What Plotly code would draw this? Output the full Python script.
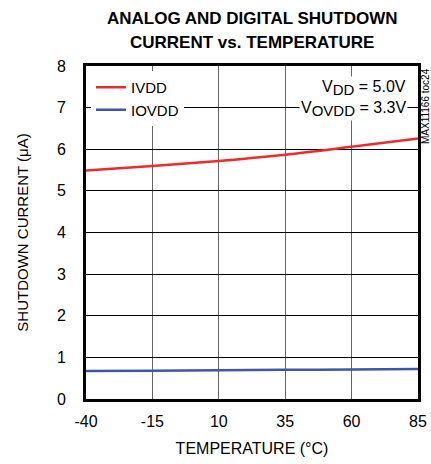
import plotly.graph_objects as go

temps = [-40, -15, 10, 35, 60, 85]
ivdd = [5.49, 5.60, 5.72, 5.87, 6.06, 6.26]
iovdd = [0.67, 0.68, 0.69, 0.70, 0.71, 0.72]
x_ticks = [-40, -15, 10, 35, 60, 85]
y_ticks = [0, 1, 2, 3, 4, 5, 6, 7, 8]

FONT = "Liberation Sans, Arial"

fig = go.Figure()
fig.add_trace(go.Scatter(x=temps, y=ivdd, mode="lines", name="IVDD",
                         line=dict(color="#ee2a2a", width=2.5, shape="spline")))
fig.add_trace(go.Scatter(x=temps, y=iovdd, mode="lines", name="IOVDD",
                         line=dict(color="#3d57a8", width=2.5, shape="spline")))

fig.update_layout(
    width=431, height=464,
    margin=dict(l=86, r=13, t=66, b=65, autoexpand=False),
    paper_bgcolor="white", plot_bgcolor="white",
    font=dict(family=FONT, size=15, color="black"),
    showlegend=True,
    legend=dict(x=0.015, y=0.985, xanchor="left", yanchor="top",
                bgcolor="white", borderwidth=0,
                font=dict(family=FONT, size=15, color="black"),
                itemwidth=30, tracegroupgap=0),
    xaxis=dict(range=[-40, 85], tickvals=x_ticks, ticktext=[str(v) for v in x_ticks],
               showgrid=True, gridcolor="#666666", gridwidth=1,
               showline=True, linecolor="black", linewidth=3, mirror=True,
               ticks="", zeroline=False, automargin=False, ticklabelstandoff=6,
               title=dict(text="TEMPERATURE (°C)", standoff=14, font=dict(size=16)),
               tickfont=dict(size=16)),
    yaxis=dict(range=[0, 8], tickvals=y_ticks,
               showgrid=True, gridcolor="black", gridwidth=1,
               showline=True, linecolor="black", linewidth=3, mirror=True,
               ticks="", zeroline=False, automargin=False, ticklabelstandoff=14,
               title=dict(text="SHUTDOWN CURRENT (μA)", standoff=25, font=dict(size=15)),
               tickfont=dict(size=16)),
)

fig.add_annotation(xref="paper", yref="paper", x=0.5, y=1, yshift=48, xanchor="center", yanchor="middle",
                   text="<b>ANALOG AND DIGITAL SHUTDOWN</b>", showarrow=False,
                   font=dict(family=FONT, size=17, color="black"))
fig.add_annotation(xref="paper", yref="paper", x=0.5, y=1, yshift=24, xanchor="center", yanchor="middle",
                   text="<b>CURRENT vs. TEMPERATURE</b>", showarrow=False,
                   font=dict(family=FONT, size=17, color="black"))
fig.add_annotation(xref="paper", yref="paper", x=0.97, y=1, yshift=-22, xanchor="right", yanchor="middle",
                   text="V<sub><span style='font-size:15px'>DD</span></sub> = 5.0V",
                   showarrow=False, bgcolor="white", font=dict(family=FONT, size=16, color="black"))
fig.add_annotation(xref="paper", yref="paper", x=0.97, y=1, yshift=-43, xanchor="right", yanchor="middle",
                   text="V<sub><span style='font-size:15px'>OVDD</span></sub> = 3.3V",
                   showarrow=False, bgcolor="white", font=dict(family=FONT, size=16, color="black"))
fig.add_annotation(xref="paper", yref="paper", x=1.0, y=1.0, xanchor="center", yanchor="top",
                   xshift=7, text="MAX11166 toc24", textangle=-90, showarrow=False,
                   font=dict(family=FONT, size=10, color="black"))

fig.write_html("out.html", config={"displayModeBar": False},
               post_script="document.body.style.margin='0';")
